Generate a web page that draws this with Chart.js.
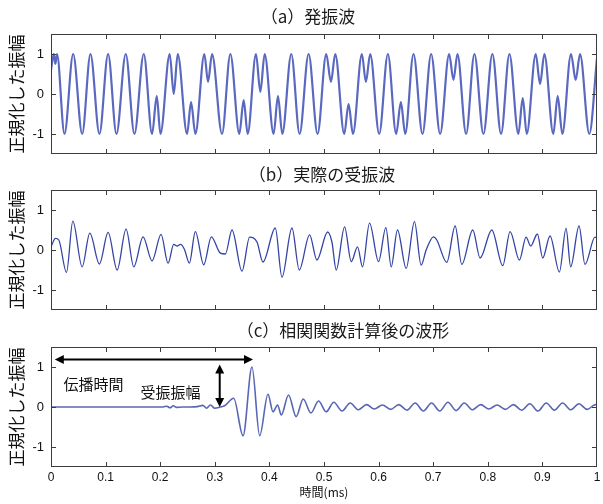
<!DOCTYPE html>
<html><head><meta charset="utf-8">
<script src="https://cdn.jsdelivr.net/npm/chart.js@4/dist/chart.umd.min.js"></script>
<style>
html,body{margin:0;padding:0;background:#fff;}
#wrap{position:relative;width:603px;height:504px;overflow:hidden;background:#fff;}
canvas{position:absolute;left:0;}
</style></head><body>
<div id="wrap">
<canvas id="ca" width="603" height="160" style="top:0px"></canvas>
<canvas id="cb" width="603" height="160" style="top:156px"></canvas>
<canvas id="cc" width="603" height="191" style="top:313px"></canvas>
</div>
<script>
// ---------- data ----------
const titles = ['（a）発振波', '（b）実際の受振波', '（c）相関関数計算後の波形'];
const yAxisTitle = '正規化した振幅';
const xAxisTitle = '時間(ms)';
const xTickValues = [0,0.1,0.2,0.3,0.4,0.5,0.6,0.7,0.8,0.9,1];
const xTickLabels = ['0','0.1','0.2','0.3','0.4','0.5','0.6','0.7','0.8','0.9','1'];
const yTickValues = [-1,0,1];
const yTickLabels = ['-1','0','1'];

// (a) transmitted wave: time (ms) and normalised amplitude at extrema
const aTime = [0,0.005,0.008,0.011,0.0247,0.0406,0.0571,0.0723,0.0887,0.1046,0.1199,0.1369,0.1528,0.1699,0.1851,0.1937,0.2004,0.2174,0.2248,0.2321,0.2492,0.2565,0.2644,0.2809,0.2876,0.2949,0.3132,0.3285,0.3449,0.3529,0.3602,0.3754,0.3834,0.3913,0.4077,0.4157,0.4236,0.4401,0.4553,0.4718,0.4882,0.5041,0.5127,0.5206,0.5371,0.5450,0.5530,0.5694,0.5767,0.5846,0.6011,0.6170,0.6322,0.6408,0.6487,0.6639,0.6804,0.6962,0.7127,0.7292,0.7371,0.7444,0.7603,0.7755,0.7920,0.8084,0.8243,0.8396,0.8560,0.8640,0.8713,0.8878,0.8957,0.9036,0.9200,0.9280,0.9365,0.9524,0.9610,0.9689,0.9859,1.0];
const aValue = [0.6,1,0.75,1,-1,1,-1,1,-1,1,-1,1,-1,1,-1,-0.05,-1,1,0.0,1,-1,-0.2,-1,1,0.3,1,-1,1,-1,-0.15,-1,1,0.05,1,-1,-0.05,-1,1,-1,1,-1,1,0.3,1,-1,-0.25,-1,1,0.3,1,-1,1,-1,-0.2,-1,1,-1,1,-1,1,0.35,1,-1,1,-1,1,-1,1,-1,-0.1,-1,1,0.25,1,-1,-0.05,-1,1,0.35,1,-1,0.9];

// (b) actual received wave
const bTime = [0,0.0082,0.0143,0.0284,0.0400,0.0570,0.0711,0.0887,0.1046,0.1211,0.1375,0.1516,0.1686,0.1851,0.2016,0.2144,0.2248,0.2309,0.2370,0.2443,0.2534,0.2644,0.2797,0.2937,0.3102,0.3193,0.3315,0.3498,0.3638,0.3773,0.3882,0.4108,0.4230,0.4413,0.4547,0.4736,0.4870,0.5066,0.5145,0.5224,0.5377,0.5499,0.5614,0.5706,0.5834,0.5999,0.6133,0.6231,0.6346,0.6505,0.6657,0.6779,0.6871,0.7005,0.7066,0.7249,0.7402,0.7524,0.7725,0.7859,0.8073,0.8274,0.8408,0.8579,0.8701,0.8786,0.8908,0.9006,0.9140,0.9311,0.9433,0.9518,0.9671,0.9780,0.9963,1.0];
const bValue = [0.08,0.29,0.25,-0.56,0.72,-0.42,0.42,-0.35,0.44,-0.5,0.52,-0.42,0.33,-0.27,0.39,-0.33,0.14,0.1,0.14,0.02,-0.33,0.46,-0.37,0.33,-0.08,-0.1,0.5,-0.53,0.32,0.2,-0.3,0.55,-0.68,0.55,-0.5,0.38,-0.25,0.45,0.2,-0.5,0.58,-0.29,0.08,-0.42,0.67,-0.29,0.56,-0.42,0.5,-0.46,0.71,-0.38,0.0,0.33,0.25,-0.31,0.6,-0.36,0.5,-0.2,0.5,-0.39,0.46,-0.25,0.32,0.1,0.4,-0.2,0.35,-0.55,0.54,-0.42,0.6,-0.36,0.32,0.3];

// (c) waveform after correlation
const cTime = [0,0.205,0.212,0.218,0.224,0.230,0.240,0.255,0.268,0.278,0.285,0.292,0.300,0.310,0.318,0.3346,0.3517,0.3681,0.3822,0.3974,0.4066,0.415,0.4218,0.435,0.449,0.462,0.476,0.490,0.504,0.518,0.533,0.548,0.563,0.578,0.592,0.607,0.622,0.637,0.652,0.667,0.682,0.697,0.712,0.727,0.742,0.757,0.772,0.787,0.802,0.817,0.832,0.847,0.862,0.877,0.892,0.907,0.922,0.937,0.952,0.967,0.982,0.997,1.0];
const cValue = [0,0,0.02,-0.02,0.03,-0.01,0,0,0.01,0.04,-0.03,0.05,-0.03,0,0.03,0.22,-0.72,1.0,-0.72,0.32,-0.12,0.05,-0.2,0.3,-0.24,0.2,-0.15,0.15,-0.12,0.12,-0.1,0.1,-0.07,0.06,-0.05,0.05,-0.06,0.06,-0.08,0.1,-0.1,0.1,-0.1,0.12,-0.09,0.1,-0.07,0.06,-0.05,0.05,-0.06,0.06,-0.08,0.08,-0.1,0.1,-0.08,0.1,-0.07,0.08,-0.06,0.06,0.04];

// annotations in panel (c)
const propArrowX = [0.007, 0.370];
const propArrowY = 1.19;
const ampArrowX = 0.309;
const ampArrowY = [0.0, 1.06];
const propLabel = {text:'伝播時間', x:0.023, y:0.58};
const ampLabel = {text:'受振振幅', x:0.164, y:0.36};

// ---------- helpers ----------
const CJK = "'Noto Sans CJK JP', 'Noto Sans', sans-serif";
const NUM = "'Liberation Sans Narrow', 'Liberation Sans', Arial, sans-serif";

const frameTicks = {
  id: 'frameTicks',
  afterDatasetsDraw(chart) {
    const {ctx, chartArea: a, scales: {x, y}} = chart;
    ctx.save();
    ctx.strokeStyle = '#3c3c3c';
    ctx.lineWidth = 1;
    ctx.beginPath();
    x.ticks.forEach(t => {
      if (t.value <= 0 || t.value >= 1) return;
      const px = Math.round(x.getPixelForValue(t.value)) + 0.5;
      ctx.moveTo(px, a.top); ctx.lineTo(px, a.top + 5);
      ctx.moveTo(px, a.bottom); ctx.lineTo(px, a.bottom - 5);
    });
    y.ticks.forEach(t => {
      const py = Math.round(y.getPixelForValue(t.value)) + 0.5;
      ctx.moveTo(a.left, py); ctx.lineTo(a.left + 5, py);
      ctx.moveTo(a.right, py); ctx.lineTo(a.right - 5, py);
    });
    ctx.stroke();
    ctx.strokeRect(Math.round(a.left) + 0.5, Math.round(a.top) + 0.5,
      Math.round(a.right - a.left) - 1, Math.round(a.bottom - a.top) - 1);
    ctx.restore();
  }
};

// panel title drawn as canvas text above the axes
const panelTitle = {
  id: 'panelTitle',
  afterDraw(chart, args, opts) {
    const ctx = chart.ctx;
    ctx.save();
    ctx.font = "17px " + CJK;
    ctx.fillStyle = '#1a1a1a';
    ctx.textAlign = 'center'; ctx.textBaseline = 'middle';
    ctx.fillText(opts.text, opts.cx, opts.cy);
    ctx.restore();
  }
};

function arrowHead(ctx, x, y, dx, dy) {
  const L = 9, W = 4.5;
  const len = Math.hypot(dx, dy); const ux = dx / len, uy = dy / len;
  ctx.beginPath();
  ctx.moveTo(x, y);
  ctx.lineTo(x - ux * L - uy * W, y - uy * L + ux * W);
  ctx.lineTo(x - ux * L + uy * W, y - uy * L - ux * W);
  ctx.closePath(); ctx.fill();
}

const annot = {
  id: 'annot',
  afterDatasetsDraw(chart) {
    const {ctx, scales: {x, y}} = chart;
    ctx.save();
    ctx.strokeStyle = '#000'; ctx.fillStyle = '#000'; ctx.lineWidth = 2;
    const x1 = x.getPixelForValue(propArrowX[0]), x2 = x.getPixelForValue(propArrowX[1]);
    const yy = y.getPixelForValue(propArrowY);
    ctx.beginPath(); ctx.moveTo(x1 + 4, yy); ctx.lineTo(x2 - 4, yy); ctx.stroke();
    arrowHead(ctx, x1, yy, -1, 0); arrowHead(ctx, x2, yy, 1, 0);
    const ax = x.getPixelForValue(ampArrowX);
    const y1 = y.getPixelForValue(ampArrowY[0]), y2 = y.getPixelForValue(ampArrowY[1]);
    ctx.beginPath(); ctx.moveTo(ax, y1 - 4); ctx.lineTo(ax, y2 + 4); ctx.stroke();
    arrowHead(ctx, ax, y1, 0, 1); arrowHead(ctx, ax, y2, 0, -1);
    ctx.font = "15px " + CJK;
    ctx.textBaseline = 'middle'; ctx.textAlign = 'left';
    ctx.fillStyle = '#111';
    ctx.fillText(propLabel.text, x.getPixelForValue(propLabel.x), y.getPixelForValue(propLabel.y));
    ctx.fillText(ampLabel.text, x.getPixelForValue(ampLabel.x), y.getPixelForValue(ampLabel.y));
    ctx.restore();
  }
};

function makeChart(id, title, titleCx, titleCy, times, values, color, width, xAxisH, showX, extraPlugins) {
  const pts = times.map((t, i) => ({x: t, y: values[i]}));
  return new Chart(document.getElementById(id), {
    type: 'line',
    data: {datasets: [{
      data: pts, borderColor: color, borderWidth: width, pointRadius: 0,
      fill: false, cubicInterpolationMode: 'monotone'
    }]},
    options: {
      responsive: false, animation: false, events: [],
      layout: {padding: {left: 0, right: 6, top: 34, bottom: 0}},
      plugins: {
        legend: {display: false}, tooltip: {enabled: false}, title: {display: false},
        panelTitle: {text: title, cx: titleCx, cy: titleCy}
      },
      scales: {
        x: {
          type: 'linear', min: 0, max: 1,
          afterBuildTicks: s => { s.ticks = xTickValues.map(v => ({value: v})); },
          afterFit: s => { s.height = xAxisH; s.paddingLeft = 0; s.paddingRight = 0; },
          grid: {display: false, drawTicks: false}, border: {display: false},
          ticks: {display: showX, padding: 3, color: '#111',
            font: {family: NUM, size: 12}, maxRotation: 0, autoSkip: false,
            callback: (v, i) => xTickLabels[i]},
          title: {display: showX, text: xAxisTitle, color: '#111',
            font: {family: CJK, size: 12}, padding: {top: 0, bottom: 4}}
        },
        y: {
          type: 'linear', min: -1.5, max: 1.5,
          afterBuildTicks: s => { s.ticks = yTickValues.map(v => ({value: v})); },
          afterFit: s => { s.width = 51; s.paddingTop = 0; s.paddingBottom = 0; },
          grid: {display: false, drawTicks: false}, border: {display: false},
          ticks: {padding: 7, color: '#111', font: {family: NUM, size: 13},
            callback: (v, i) => yTickLabels[i]},
          title: {display: true, text: yAxisTitle, color: '#111',
            font: {family: CJK, size: 17}, padding: {top: 6, bottom: 0}}
        }
      }
    },
    plugins: [frameTicks, panelTitle].concat(extraPlugins || [])
  });
}

makeChart('ca', titles[0], 308, 17, aTime, aValue, '#5a69bf', 2.2, 6, false);
makeChart('cb', titles[1], 322, 19, bTime, bValue, '#3444a4', 1.3, 6, false);
makeChart('cc', titles[2], 343, 18, cTime, cValue, '#5866b4', 1.6, 37, true, [annot]);
</script>
</body></html>
